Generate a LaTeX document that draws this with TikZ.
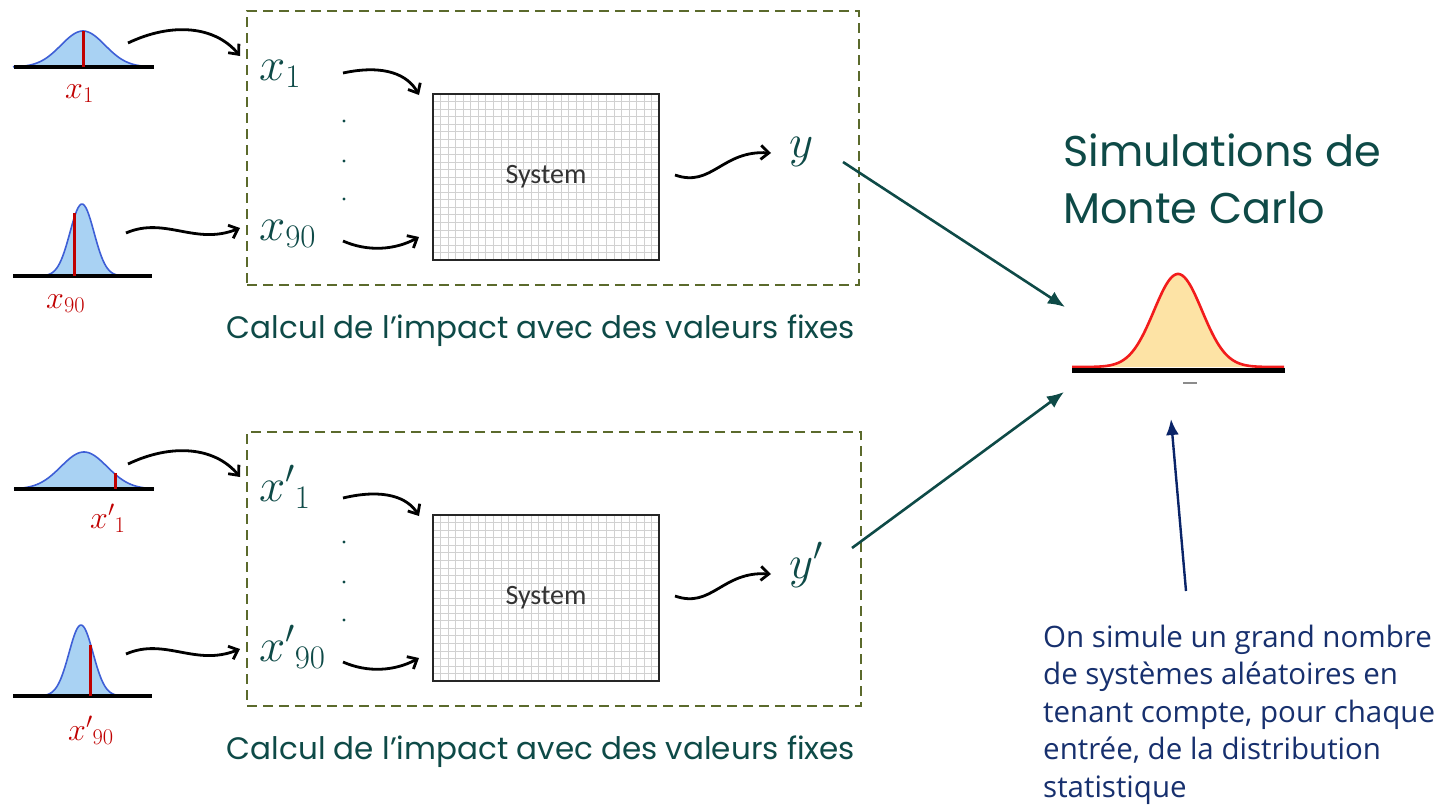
\documentclass[tikz,border=0pt]{standalone}
\usepackage{fix-cm}
\usepackage{fontspec}
\usetikzlibrary{arrows.meta}
\newfontfamily\gothic{Poppins}
\newfontfamily\segoe{Open Sans}
\newfontfamily\calib{Carlito}

\definecolor{tealtext}{HTML}{0E4A47}
\definecolor{olivedash}{HTML}{5B6A2C}
\definecolor{markred}{HTML}{C00000}
\definecolor{bellfill}{HTML}{A9D2F3}
\definecolor{bellline}{HTML}{3E5FD6}
\definecolor{mcfill}{HTML}{FDE3A5}
\definecolor{mcline}{HTML}{F21C1C}
\definecolor{navy}{HTML}{0A2468}
\definecolor{navytext}{HTML}{17306E}

% gaussian bump: centre x, baseline y, height, sigma, half width
\newcommand\bellcurve[5]{%
  \fill[bellfill] plot[domain=-#5:#5,samples=90] ({#1+\x},{#2-#3*exp(-(\x*\x)/(2*#4*#4))}) -- cycle;
  \draw[bellstroke] plot[domain=-#5:#5,samples=90] ({#1+\x},{#2-#3*exp(-(\x*\x)/(2*#4*#4))});
}

\begin{document}
\begin{tikzpicture}[x=1pt,y=-1pt,
  bellstroke/.style={draw=bellline,line width=1.6pt},
  axisline/.style={line width=3.2pt,black},
  marker/.style={draw=markred,line width=3pt},
  redlabel/.style={anchor=base west,inner sep=0pt,text=markred,font=\fontsize{32}{32}\selectfont},
  tlabel/.style={anchor=base west,inner sep=0pt,text=tealtext,font=\fontsize{47}{47}\selectfont},
  curvy/.style={line width=2.8pt,black,-{Straight Barb[length=8pt,width=14pt,line width=2.8pt]}},
  dashframe/.style={draw=olivedash,line width=2pt,dash pattern=on 10pt off 6pt,inner sep=0pt},
  sysbox/.style={draw=black!85,line width=2.2pt,inner sep=0pt,minimum width=226pt,minimum height=166pt,
    font=\calib\fontsize{28}{28}\selectfont,text=black!80},
  gridline/.style={draw=black!18,line width=0.6pt},
  caption/.style={anchor=base,inner sep=0pt,text=tealtext,font=\gothic\fontsize{31}{31}\selectfont},
  toresult/.style={draw=tealtext,line width=2.6pt,-{Latex[length=17pt,width=14pt]}},
  dot/.style={fill=tealtext}
]
\useasboundingbox (0,0) rectangle (1445,809);

% ---------- system grids ----------
\foreach \dy in {0,421}{
  \foreach \i in {1,...,29} \draw[gridline] ({433+\i*226/30},{94+\dy}) -- ++(0,166);
  \foreach \j in {1,...,21} \draw[gridline] (433,{94+\dy+\j*166/22}) -- ++(226,0);
}

% ---------- upper block ----------
\node[dashframe,minimum width=612pt,minimum height=274pt] (frameA) at (553,148) {};
\bellcurve{83}{67}{36}{22}{70}
\draw[axisline] (14,67) -- (154,67);
\draw[marker] (83,67) -- (83,31);
\node[redlabel] (rA1) at (65,98) {$x_1$};
\bellcurve{82}{276}{72}{12}{69}
\draw[axisline] (13,276) -- (152,276);
\draw[marker] (74,276) -- (74,213);
\node[redlabel] (rA90) at (46,308) {$x_{90}$};

\node[tlabel] (xA1) at (259,80) {$x_1$};
\node[tlabel] (xA90) at (259,240) {$x_{90}$};
\node[tlabel] (yA) at (789,157) {$y$};
\fill[dot] (344,121) circle (1.7) (344,161) circle (1.7) (344,199) circle (1.7);
\node[sysbox] (sysA) at (546,177) {System};
\node[caption] (capA) at (541,338) {Calcul de l’impact avec des valeurs fixes};

\coordinate (dA1) at (128,43);   \coordinate (inA1) at (240,56);
\coordinate (dA90) at (126,233); \coordinate (inA90) at (240,228);
\coordinate (sA1) at (343,73);   \coordinate (sA1e) at (419,95);
\coordinate (sA90) at (343,241); \coordinate (sA90e) at (419,237);
\coordinate (oA) at (675,175);   \coordinate (oAe) at (771,153);
\draw[curvy] (dA1) .. controls (172,22) and (215,26) .. (inA1);
\draw[curvy] (dA90) .. controls (165,216) and (195,246) .. (inA90);
\draw[curvy] (sA1) .. controls (385,64) and (408,75) .. (sA1e);
\draw[curvy] (sA90) .. controls (368,252) and (395,250) .. (sA90e);
\draw[curvy] (oA) .. controls (712,188) and (722,150) .. (oAe);

% ---------- lower block ----------
\node[dashframe,minimum width=614pt,minimum height=274pt] (frameB) at (554,569) {};
\bellcurve{84}{489}{37}{23}{70}
\draw[axisline] (14,489) -- (154,489);
\draw[marker] (115,489) -- (115,473);
\node[redlabel] (rB1) at (90,528) {${x'}_1$};
\bellcurve{81}{696}{71}{12}{68}
\draw[axisline] (13,696) -- (152,696);
\draw[marker] (90,696) -- (90,645);
\node[redlabel] (rB90) at (68,740) {${x'}_{90}$};

\node[tlabel] (xB1) at (259,501) {${x'}_1$};
\node[tlabel] (xB90) at (259,661) {${x'}_{90}$};
\node[tlabel] (yB) at (789,578) {$y'$};
\fill[dot] (344,542) circle (1.7) (344,582) circle (1.7) (344,620) circle (1.7);
\node[sysbox] (sysB) at (546,598) {System};
\node[caption] (capB) at (541,759) {Calcul de l’impact avec des valeurs fixes};

\coordinate (dB1) at (128,464);   \coordinate (inB1) at (240,477);
\coordinate (dB90) at (126,654);  \coordinate (inB90) at (240,649);
\coordinate (sB1) at (343,498);   \coordinate (sB1e) at (419,516);
\coordinate (sB90) at (343,662);  \coordinate (sB90e) at (419,658);
\coordinate (oB) at (675,596);    \coordinate (oBe) at (771,574);
\draw[curvy] (dB1) .. controls (172,443) and (215,447) .. (inB1);
\draw[curvy] (dB90) .. controls (165,637) and (195,667) .. (inB90);
\draw[curvy] (sB1) .. controls (385,488) and (408,498) .. (sB1e);
\draw[curvy] (sB90) .. controls (368,673) and (395,671) .. (sB90e);
\draw[curvy] (oB) .. controls (712,609) and (722,571) .. (oBe);

% ---------- Monte Carlo result ----------
\node[anchor=base west,inner sep=0pt,align=left,text=tealtext,
      font=\gothic\fontsize{43}{57}\selectfont] (title) at (1063,223)
      {Simulations de\\Monte Carlo};
\fill[mcfill] plot[domain=-106:106,samples=120] ({1178+\x},{367-93*exp(-(\x*\x)/(2*24*24))}) -- cycle;
\draw[mcline,line width=2.6pt] plot[domain=-106:106,samples=120] ({1178+\x},{367-93*exp(-(\x*\x)/(2*24*24))});
\draw[line width=5pt,black] (1072,370) -- (1285,370);
\draw[black!45,line width=1.2pt] (1183,383) -- (1197,383);
\coordinate (mcA) at (1065,307);
\coordinate (mcB) at (1064,392);
\coordinate (yAout) at (843,162);
\coordinate (yBout) at (852,548);
\draw[toresult] (yAout) -- (mcA);
\draw[toresult] (yBout) -- (mcB);

\node[anchor=base west,inner sep=0pt,align=left,text=navytext,
      font=\segoe\fontsize{29.5}{37.5}\selectfont] (note) at (1043,797)
      {On simule un grand nombre\\de systèmes aléatoires en\\tenant compte, pour chaque\\entrée, de la distribution\\statistique};
\coordinate (noteTop) at (1186,591);
\coordinate (mcBottom) at (1171,419);
\draw[navy,line width=2.4pt,-{Latex[length=16pt,width=13pt]}] (noteTop) -- (mcBottom);
\end{tikzpicture}
\end{document}
